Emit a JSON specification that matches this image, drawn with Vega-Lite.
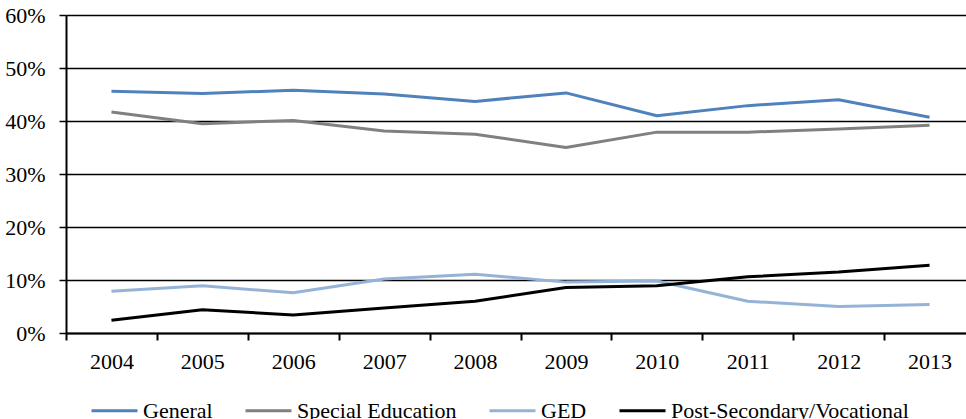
{
  "$schema": "https://vega.github.io/schema/vega-lite/v6.json",
  "autosize": "none",
  "width": 900,
  "height": 318,
  "padding": {"left": 66, "top": 15, "right": 0, "bottom": 86},
  "background": "white",
  "config": {
    "view": {"stroke": null},
    "font": "Liberation Serif"
  },
  "data": {
    "values": [
      {"year": "2004", "series": "General", "value": 0.456},
      {"year": "2005", "series": "General", "value": 0.452},
      {"year": "2006", "series": "General", "value": 0.458},
      {"year": "2007", "series": "General", "value": 0.451},
      {"year": "2008", "series": "General", "value": 0.437},
      {"year": "2009", "series": "General", "value": 0.453},
      {"year": "2010", "series": "General", "value": 0.410},
      {"year": "2011", "series": "General", "value": 0.429},
      {"year": "2012", "series": "General", "value": 0.440},
      {"year": "2013", "series": "General", "value": 0.407},
      {"year": "2004", "series": "Special Education", "value": 0.417},
      {"year": "2005", "series": "Special Education", "value": 0.395},
      {"year": "2006", "series": "Special Education", "value": 0.401},
      {"year": "2007", "series": "Special Education", "value": 0.381},
      {"year": "2008", "series": "Special Education", "value": 0.375},
      {"year": "2009", "series": "Special Education", "value": 0.350},
      {"year": "2010", "series": "Special Education", "value": 0.379},
      {"year": "2011", "series": "Special Education", "value": 0.379},
      {"year": "2012", "series": "Special Education", "value": 0.385},
      {"year": "2013", "series": "Special Education", "value": 0.392},
      {"year": "2004", "series": "GED", "value": 0.079},
      {"year": "2005", "series": "GED", "value": 0.089},
      {"year": "2006", "series": "GED", "value": 0.076},
      {"year": "2007", "series": "GED", "value": 0.102},
      {"year": "2008", "series": "GED", "value": 0.111},
      {"year": "2009", "series": "GED", "value": 0.096},
      {"year": "2010", "series": "GED", "value": 0.098},
      {"year": "2011", "series": "GED", "value": 0.060},
      {"year": "2012", "series": "GED", "value": 0.050},
      {"year": "2013", "series": "GED", "value": 0.054},
      {"year": "2004", "series": "Post-Secondary/Vocational", "value": 0.024},
      {"year": "2005", "series": "Post-Secondary/Vocational", "value": 0.044},
      {"year": "2006", "series": "Post-Secondary/Vocational", "value": 0.034},
      {"year": "2007", "series": "Post-Secondary/Vocational", "value": 0.047},
      {"year": "2008", "series": "Post-Secondary/Vocational", "value": 0.060},
      {"year": "2009", "series": "Post-Secondary/Vocational", "value": 0.086},
      {"year": "2010", "series": "Post-Secondary/Vocational", "value": 0.089},
      {"year": "2011", "series": "Post-Secondary/Vocational", "value": 0.106},
      {"year": "2012", "series": "Post-Secondary/Vocational", "value": 0.115},
      {"year": "2013", "series": "Post-Secondary/Vocational", "value": 0.128}
    ]
  },
  "mark": {"type": "line", "strokeWidth": 3, "strokeJoin": "round"},
  "encoding": {
    "x": {
      "field": "year",
      "type": "ordinal",
      "scale": {"type": "band", "range": [0, 909], "paddingInner": 0, "paddingOuter": 0},
      "axis": {
        "title": null,
        "labelAngle": 0,
        "tickBand": "extent",
        "domainColor": "black",
        "domainWidth": 2,
        "tickColor": "black",
        "tickWidth": 2,
        "tickSize": 7,
        "labelFont": "Liberation Serif",
        "labelFontSize": 22,
        "labelColor": "black",
        "labelPadding": 11,
        "grid": false
      }
    },
    "y": {
      "field": "value",
      "type": "quantitative",
      "scale": {"domain": [0, 0.6], "nice": false},
      "axis": {
        "title": null,
        "values": [0, 0.1, 0.2, 0.3, 0.4, 0.5, 0.6],
        "format": ".0%",
        "domainColor": "black",
        "domainWidth": 2,
        "tickColor": "black",
        "tickWidth": 1.5,
        "tickSize": 7,
        "gridColor": "black",
        "gridWidth": 1.5,
        "gridOpacity": 1,
        "labelFont": "Liberation Serif",
        "labelFontSize": 22,
        "labelColor": "black",
        "labelPadding": 14
      }
    },
    "color": {
      "field": "series",
      "type": "nominal",
      "scale": {
        "domain": ["General", "Special Education", "GED", "Post-Secondary/Vocational"],
        "range": ["#4F81BD", "#808080", "#95B3D7", "#000000"]
      },
      "legend": {
        "title": null,
        "orient": "none",
        "direction": "horizontal",
        "legendX": 24,
        "legendY": 371,
        "symbolType": "stroke",
        "symbolSize": 2116,
        "symbolStrokeWidth": 3,
        "labelFont": "Liberation Serif",
        "labelFontSize": 22,
        "labelColor": "black",
        "labelOffset": 4,
        "columnPadding": 26,
        "labelLimit": 400
      }
    }
  }
}
